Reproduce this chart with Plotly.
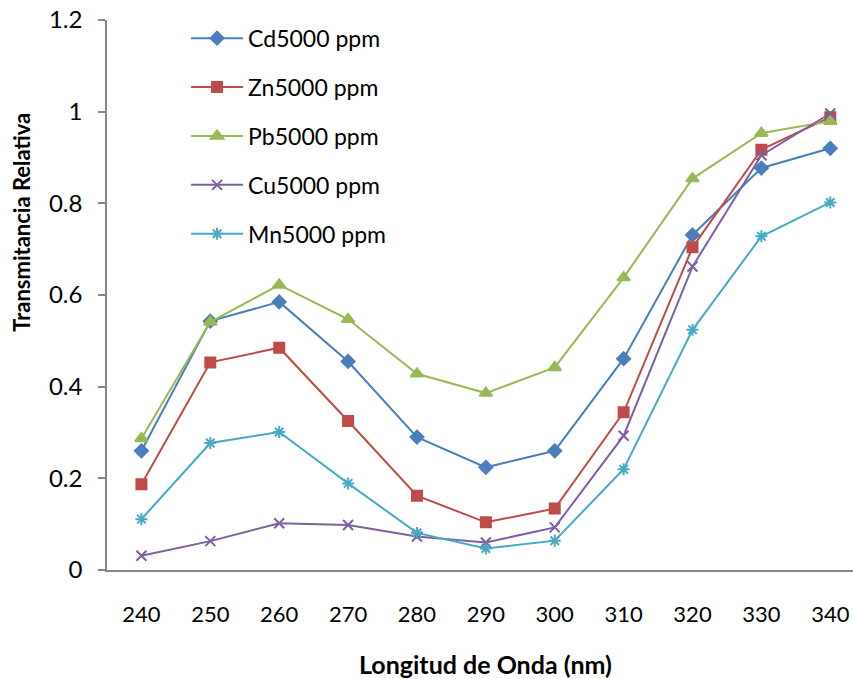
import plotly.graph_objects as go

wavelengths = ["240", "250", "260", "270", "280", "290", "300", "310", "320", "330", "340"]

cd = [0.260, 0.543, 0.585, 0.455, 0.290, 0.224, 0.260, 0.461, 0.731, 0.877, 0.920]
zn = [0.187, 0.453, 0.485, 0.325, 0.162, 0.104, 0.134, 0.344, 0.704, 0.917, 0.988]
pb = [0.287, 0.541, 0.622, 0.547, 0.428, 0.386, 0.442, 0.638, 0.854, 0.953, 0.979]
cu = [0.031, 0.063, 0.102, 0.098, 0.073, 0.060, 0.093, 0.293, 0.662, 0.905, 0.996]
mn = [0.111, 0.277, 0.301, 0.189, 0.081, 0.047, 0.064, 0.220, 0.524, 0.728, 0.802]

series = [
    ("Cd5000 ppm", cd, "#4A7EBB", "diamond", 10),
    ("Zn5000 ppm", zn, "#BE4B48", "square", 10),
    ("Pb5000 ppm", pb, "#98B954", "triangle-up", 11),
    ("Cu5000 ppm", cu, "#7D60A0", "x-thin-open", 10),
    ("Mn5000 ppm", mn, "#46AAC5", "asterisk-open", 10),
]

FONT = "Lato, 'Open Sans', sans-serif"

fig = go.Figure()
for name, vals, color, symbol, size in series:
    fig.add_trace(go.Scatter(
        x=wavelengths, y=vals, name=name, mode="lines+markers",
        legendgroup=name,
        line=dict(color=color, width=2),
        marker=dict(symbol=symbol, size=size, color=color,
                    line=dict(color=color, width=2)),
        cliponaxis=False,
    ))

# axis titles placed as annotations in paper coordinates
fig.add_annotation(
    text="<b>Longitud de Onda (nm)</b>", xref="paper", yref="paper",
    x=0.507, y=-0.171, xanchor="center", yanchor="middle", showarrow=False,
    font=dict(family=FONT, size=25, color="#000000"),
)
fig.add_annotation(
    text="<b>Transmitancia Relativa</b>", xref="paper", yref="paper",
    x=-0.114, y=0.633, xanchor="center", yanchor="middle", showarrow=False,
    textangle=-90, font=dict(family=FONT, size=22, color="#000000"),
)

fig.update_layout(
    width=853, height=679,
    margin=dict(l=107, r=0, t=20, b=109),
    plot_bgcolor="white", paper_bgcolor="white",
    font=dict(family=FONT, size=23, color="#000000"),
    showlegend=True,
    legend=dict(x=0.106, y=1.006, xanchor="left", yanchor="top",
                bgcolor="rgba(0,0,0,0)", tracegroupgap=16,
                font=dict(family=FONT, size=23), itemwidth=52),
    xaxis=dict(
        type="category", range=[-0.5, 10.33],
        showline=True, linecolor="#868686", linewidth=1.5,
        showgrid=False, zeroline=False, ticks="",
        ticklabelstandoff=24,
        tickfont=dict(family=FONT, size=22),
    ),
    yaxis=dict(
        range=[0, 1.2], dtick=0.2, tick0=0,
        showline=True, linecolor="#868686", linewidth=1.5,
        showgrid=False, zeroline=False,
        ticks="outside", ticklen=7, tickcolor="#868686", tickwidth=1.5,
        ticklabelstandoff=11,
        tickfont=dict(family=FONT, size=24),
    ),
)

fig.write_html("out.html")
